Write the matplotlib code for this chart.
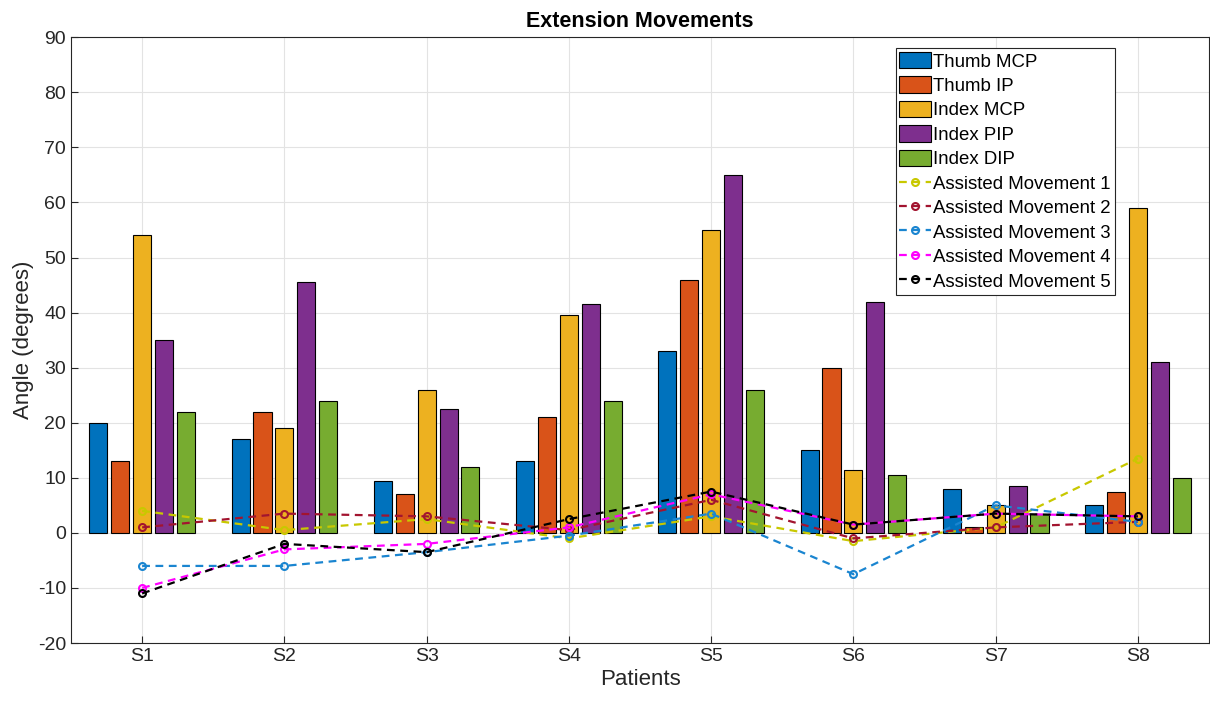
import matplotlib
matplotlib.use("Agg")
import matplotlib.pyplot as plt
import numpy as np

plt.rcParams['font.family'] = ['Liberation Sans', 'DejaVu Sans']
plt.rcParams['axes.unicode_minus'] = False

patients = ["S1", "S2", "S3", "S4", "S5", "S6", "S7", "S8"]
bar_labels = ["Thumb MCP", "Thumb IP", "Index MCP", "Index PIP", "Index DIP"]
thumb_mcp = [20, 17, 9.5, 13, 33, 15, 8, 5]
thumb_ip = [13, 22, 7, 21, 46, 30, 1, 7.5]
index_mcp = [54, 19, 26, 39.5, 55, 11.5, 5, 59]
index_pip = [35, 45.5, 22.5, 41.5, 65, 42, 8.5, 31]
index_dip = [22, 24, 12, 24, 26, 10.5, 3.5, 10]
bar_colors = ["#0072BD", "#D95319", "#EDB120", "#7E2F8E", "#77AC30"]

line_labels = ["Assisted Movement 1", "Assisted Movement 2", "Assisted Movement 3",
               "Assisted Movement 4", "Assisted Movement 5"]
am1 = [4, 0.5, 2.5, -1, 3, -1.5, 1, 13.5]
am2 = [1, 3.5, 3, 0.5, 6, -1, 1, 2]
am3 = [-6, -6, -3.5, -0.5, 3.5, -7.5, 5, 2]
am4 = [-10, -3, -2, 1, 7, 1.5, 3.5, 3]
am5 = [-11, -2, -3.5, 2.5, 7.5, 1.5, 3.5, 3]
line_colors = ["#C8C800", "#A2142F", "#1A85D0", "#FF00FF", "#000000"]

fig = plt.figure(figsize=(12.1, 7.02), dpi=100)
ax = fig.add_axes([0.0587, 0.084, 0.9405, 0.863])

x = np.arange(1, len(patients) + 1)
bars = [thumb_mcp, thumb_ip, index_mcp, index_pip, index_dip]
step = 0.154
width = 0.127
handles = []
for i, (vals, c, lab) in enumerate(zip(bars, bar_colors, bar_labels)):
    h = ax.bar(x + (i - 2) * step, vals, width=width, color=c, edgecolor="black",
               linewidth=0.8, label=lab, zorder=2)
    handles.append(h)

for vals, c, lab in zip([am1, am2, am3, am4, am5], line_colors, line_labels):
    h, = ax.plot(x, vals, linestyle=(0, (3.5, 2.5)), color=c, linewidth=1.6,
                 marker="o", markersize=5, markerfacecolor="none",
                 markeredgewidth=1.5, label=lab, zorder=3)
    handles.append(h)

ax.set_xlim(0.5, 8.5)
ax.set_ylim(-20, 90)
ax.set_yticks(np.arange(-20, 91, 10))
ax.set_xticks(x)
ax.set_xticklabels(patients)
ax.grid(True, color="#E3E3E3", linewidth=0.8, zorder=0)
ax.set_axisbelow(True)
ax.tick_params(direction="in", labelsize=14, length=5, color="#262626",
               labelcolor="#262626")
for sp in ax.spines.values():
    sp.set_color("#262626")
    sp.set_linewidth(0.8)
ax.set_title("Extension Movements", fontsize=15.5, fontweight="bold", pad=7)
ax.set_xlabel("Patients", fontsize=16, color="#262626", labelpad=3)
ax.set_ylabel("Angle (degrees)", fontsize=16, color="#262626", labelpad=3)

leg = ax.legend(handles=handles, loc="upper right", bbox_to_anchor=(0.917, 0.982),
                fontsize=13.4, frameon=True, fancybox=False, edgecolor="#262626",
                framealpha=1, handlelength=1.7, handleheight=1.0, handletextpad=0.12,
                labelspacing=0.31, borderpad=0.2, borderaxespad=0)
leg.get_frame().set_linewidth(0.8)

fig.savefig("out.png", dpi=100)
